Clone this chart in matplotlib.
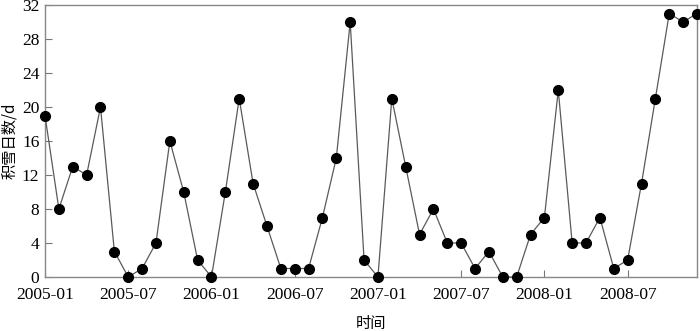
import matplotlib
matplotlib.use('Agg')
import matplotlib.pyplot as plt

# monthly snow-cover days, 2005-01 .. 2008-12
snow_2005 = [19, 8, 13, 12, 20, 3, 0, 1, 4, 16, 10, 2]
snow_2006 = [0, 10, 21, 11, 6, 1, 1, 1, 7, 14, 30, 2]
snow_2007 = [0, 21, 13, 5, 8, 4, 4, 1, 3, 0, 0, 5]
snow_2008 = [7, 22, 4, 4, 7, 1, 2, 11, 21, 31, 30, 31]
tick_labels = ['2005-01', '2005-07', '2006-01', '2006-07',
               '2007-01', '2007-07', '2008-01', '2008-07']

values = snow_2005 + snow_2006 + snow_2007 + snow_2008
months = list(range(len(values)))

plt.rcParams['font.family'] = ['Liberation Serif', 'Noto Sans CJK SC']

fig = plt.figure(figsize=(7.0, 3.31), dpi=100)
ax = fig.add_axes([45 / 700, 1 - 277 / 331, 652 / 700, 272 / 331])

ax.plot(months, values, color='#5a5a5a', linewidth=0.9,
        marker='o', markersize=7, markerfacecolor='black',
        markeredgecolor='black', clip_on=False, zorder=3)

ax.set_xlim(0, 47)
ax.set_ylim(0, 32)
ax.set_xticks(list(range(0, 48, 6)))
ax.set_xticklabels(tick_labels)
ax.set_yticks(list(range(0, 33, 4)))
ax.tick_params(direction='in', length=5, width=0.8, color='#777777',
               labelsize=12.5)
ax.tick_params(axis='x', pad=7)
ax.tick_params(axis='y', pad=4)

for s in ax.spines.values():
    s.set_color('#888888')
    s.set_linewidth(1.0)

ax.set_ylabel('积雪日数/d', family=['Noto Sans CJK SC'], fontsize=11)
ax.yaxis.set_label_coords(-0.041, 0.5)
ax.set_xlabel('时间', family=['Noto Sans CJK SC'], fontsize=11, labelpad=9)

fig.savefig('out.png', dpi=100)
